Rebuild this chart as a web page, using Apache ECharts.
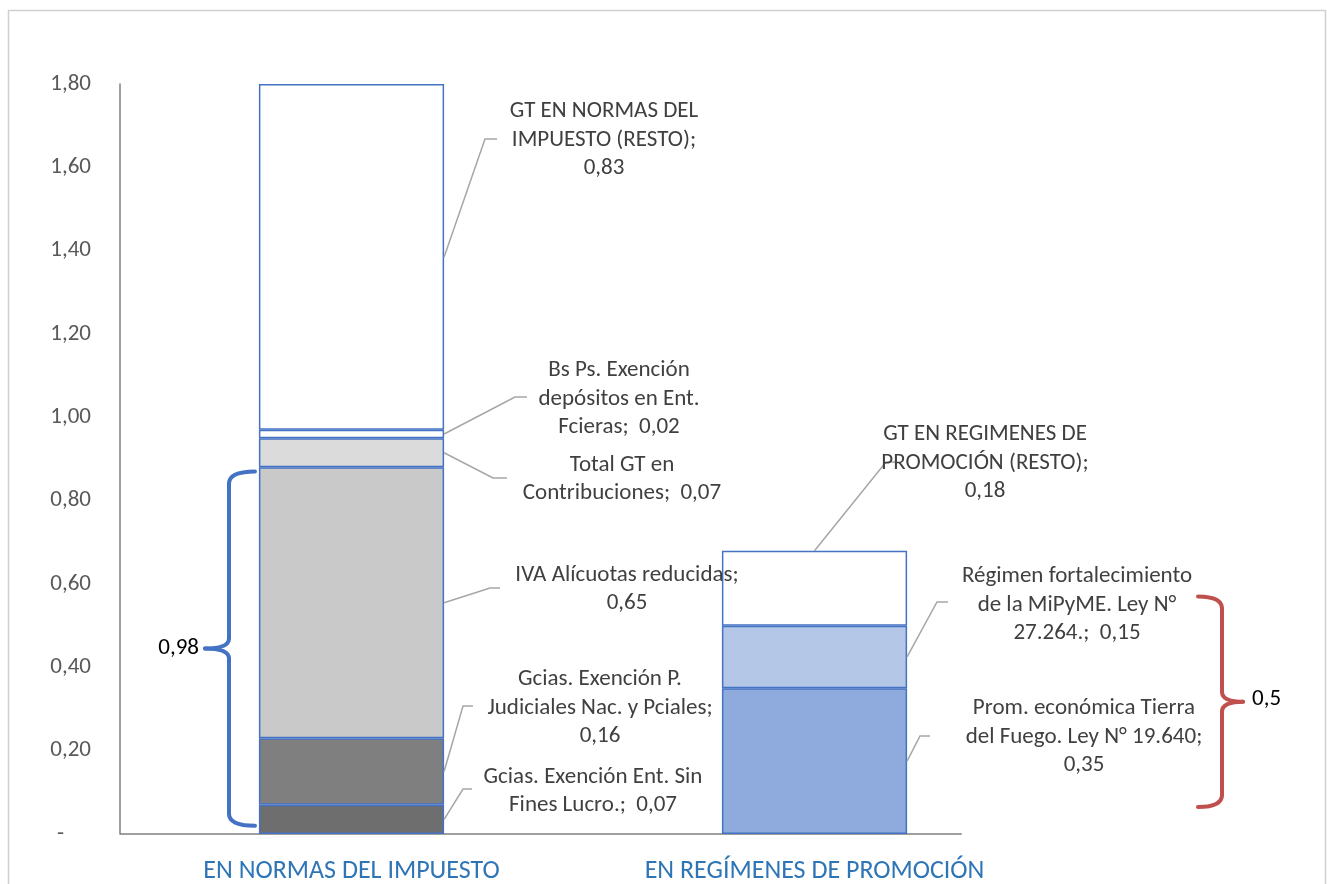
<!DOCTYPE html>
<html>
<head>
<meta charset="utf-8">
<script src="https://cdn.jsdelivr.net/npm/echarts@6/dist/echarts.min.js"></script>
<style>
html,body{margin:0;padding:0;background:#fff;}
#chart{width:1327px;height:884px;}
</style>
</head>
<body>
<div id="chart"></div>
<script>
// ---- data ----
var categories = ['EN NORMAS DEL IMPUESTO', 'EN REGÍMENES DE PROMOCIÓN'];
var leftNames = ['Gcias. Exención Ent. Sin\nFines Lucro.', 'Gcias. Exención P.\nJudiciales Nac. y Pciales', 'IVA Alícuotas reducidas', 'Total GT en\nContribuciones', 'Bs Ps. Exención\ndepósitos en Ent.\nFcieras', 'GT EN NORMAS DEL\nIMPUESTO (RESTO)'];
var leftValues = [0.07, 0.16, 0.65, 0.07, 0.02, 0.83];
var leftSeps = [';  ', ';\n', ';\n', ';  ', ';  ', ';\n'];
var rightNames = ['Prom. económica Tierra\ndel Fuego. Ley N° 19.640', 'Régimen fortalecimiento\nde la MiPyME. Ley N°\n27.264.', 'GT EN REGIMENES DE\nPROMOCIÓN (RESTO)'];
var rightValues = [0.35, 0.15, 0.18];
var rightSeps = [';\n', ';  ', ';\n'];
var bracketLeftLabel = '0,98';
var bracketRightLabel = '0,5';

// ---- styles ----
var leftColors = ['#6e6e6e', '#7f7f7f', '#c9c9c9', '#dbdbdb', '#ffffff', '#ffffff'];
var rightColors = ['#8faadc', '#b4c7e7', '#ffffff'];
var FONT = 'Carlito, Calibri, Lato, sans-serif';
var LBL = 23;
// label layout (pixel positions of label blocks and leader elbows)
var leftLabelPos = [[593, 791], [600, 708], [627, 589], [622, 479], [619, 399], [604, 140]];
var leftElbows = [[[463, 789], [472, 789]], [[463, 706], [473, 706]], [[490, 588], [500, 588]], [[493, 478], [507, 478]], [[515, 397], [527, 397]], [[485, 139], [497, 139]]];
var rightLabelPos = [[1084, 737], [1077, 605], [985, 463]];
var rightElbows = [[[920, 736], [930, 736]], [[937, 602], [948, 602]], [[886, 462], [896, 462]]];

function fmt(v) { return v.toFixed(2).replace('.', ','); }

var series = [];
leftValues.forEach(function (v, i) {
  series.push({
    type: 'bar', stack: 'total', barWidth: '40%', name: leftNames[i],
    data: [v, '-'],
    itemStyle: { color: leftColors[i], borderColor: '#4472c4', borderWidth: 1.5 }
  });
});
rightValues.forEach(function (v, i) {
  series.push({
    type: 'bar', stack: 'total', barWidth: '40%', name: rightNames[i],
    data: ['-', v],
    itemStyle: { color: rightColors[i], borderColor: '#4472c4', borderWidth: 1.5 }
  });
});

var chart = echarts.init(document.getElementById('chart'));
chart.setOption({
  animation: false,
  backgroundColor: '#fff',
  grid: { left: 120, right: 281, top: 84, bottom: 49, containLabel: false },
  xAxis: {
    type: 'category', data: categories,
    axisLine: { show: false }, axisTick: { show: false },
    axisLabel: { color: '#2e75b6', fontSize: 26, fontFamily: FONT, margin: 24 }
  },
  yAxis: {
    type: 'value', min: 0, max: 1.8, interval: 0.2,
    splitLine: { show: false },
    axisLine: { show: true, lineStyle: { color: '#7f7f7f', width: 1.5 } },
    axisTick: { show: false },
    axisLabel: {
      color: '#595959', fontSize: 23, fontFamily: FONT, margin: 29,
      formatter: function (v) { return v === 0 ? '{d|-}' : fmt(v); },
      rich: { d: { color: '#595959', fontSize: 23, fontFamily: FONT, padding: [0, 27, 0, 0] } }
    }
  },
  series: series
});

// ---- annotations computed through the chart's scales ----
function px(ci, val) { return chart.convertToPixel({ gridIndex: 0 }, [ci, val]); }
var band = px(1, 0)[0] - px(0, 0)[0];
var half = band * 0.2;
var g = [];
// outer border
g.push({ type: 'rect', shape: { x: 8.5, y: 10.5, width: 1317, height: 900 }, style: { fill: 'none', stroke: '#d0d0d0', lineWidth: 1.5 }, silent: true });
// x-axis line
var p0 = px(0, 0);
g.push({ type: 'line', shape: { x1: 120, y1: p0[1], x2: 120 + band * 1.818, y2: p0[1] }, style: { stroke: '#7f7f7f', lineWidth: 1.5 } });

function addLabels(ci, values, names, seps, pos, elbows, topIdx) {
  var cum = 0;
  values.forEach(function (v, i) {
    var mid = cum + v / 2;
    var p = px(ci, mid);
    var start = [p[0] + half, p[1]];
    if (i === topIdx) { start = px(ci, cum + v); }
    cum += v;
    g.push({ type: 'polyline', shape: { points: [start, elbows[i][0], elbows[i][1]] }, style: { stroke: '#a6a6a6', lineWidth: 1.5, fill: 'none' }, z: 10 });
    g.push({
      type: 'text', x: pos[i][0], y: pos[i][1], z: 10,
      style: { text: names[i] + seps[i] + fmt(v), align: 'center', verticalAlign: 'middle', font: LBL + 'px ' + FONT, lineHeight: 28.5, fill: '#404040' }
    });
  });
}
addLabels(0, leftValues, leftNames, leftSeps, leftLabelPos, leftElbows, -1);
addLabels(1, rightValues, rightNames, rightSeps, rightLabelPos, rightElbows, 2);

// curly brackets built from lines and quadratic curves
function brace(xEnd, xBar, xTip, yT, yB, color) {
  var yM = (yT + yB) / 2;
  var st = { stroke: color, lineWidth: 4, fill: 'none', lineCap: 'round' };
  var r = 12, r2 = 10;
  var segs = [
    { type: 'bezierCurve', shape: { x1: xEnd, y1: yT, cpx1: xBar, cpy1: yT, x2: xBar, y2: yT + r } },
    { type: 'line', shape: { x1: xBar, y1: yT + r, x2: xBar, y2: yM - r2 } },
    { type: 'bezierCurve', shape: { x1: xBar, y1: yM - r2, cpx1: xBar, cpy1: yM, x2: xTip, y2: yM } },
    { type: 'bezierCurve', shape: { x1: xTip, y1: yM, cpx1: xBar, cpy1: yM, x2: xBar, y2: yM + r2 } },
    { type: 'line', shape: { x1: xBar, y1: yM + r2, x2: xBar, y2: yB - r } },
    { type: 'bezierCurve', shape: { x1: xBar, y1: yB - r, cpx1: xBar, cpy1: yB, x2: xEnd, y2: yB } }
  ];
  segs.forEach(function (s) { s.style = st; s.z = 10; g.push(s); });
  return yM;
}
var bM = brace(255, 229, 205, px(0, 0.87)[1], px(0, 0.02)[1], '#4472c4');
g.push({ type: 'text', x: 199, y: bM, z: 10, style: { text: bracketLeftLabel, align: 'right', verticalAlign: 'middle', font: LBL + 'px ' + FONT, fill: '#000' } });
var rM = brace(1198, 1222, 1243, px(1, 0.57)[1], px(1, 0.065)[1], '#c0504d');
g.push({ type: 'text', x: 1252, y: rM - 2, z: 10, style: { text: bracketRightLabel, align: 'left', verticalAlign: 'middle', font: LBL + 'px ' + FONT, fill: '#000' } });

chart.setOption({ graphic: { elements: g } });
</script>
</body>
</html>
